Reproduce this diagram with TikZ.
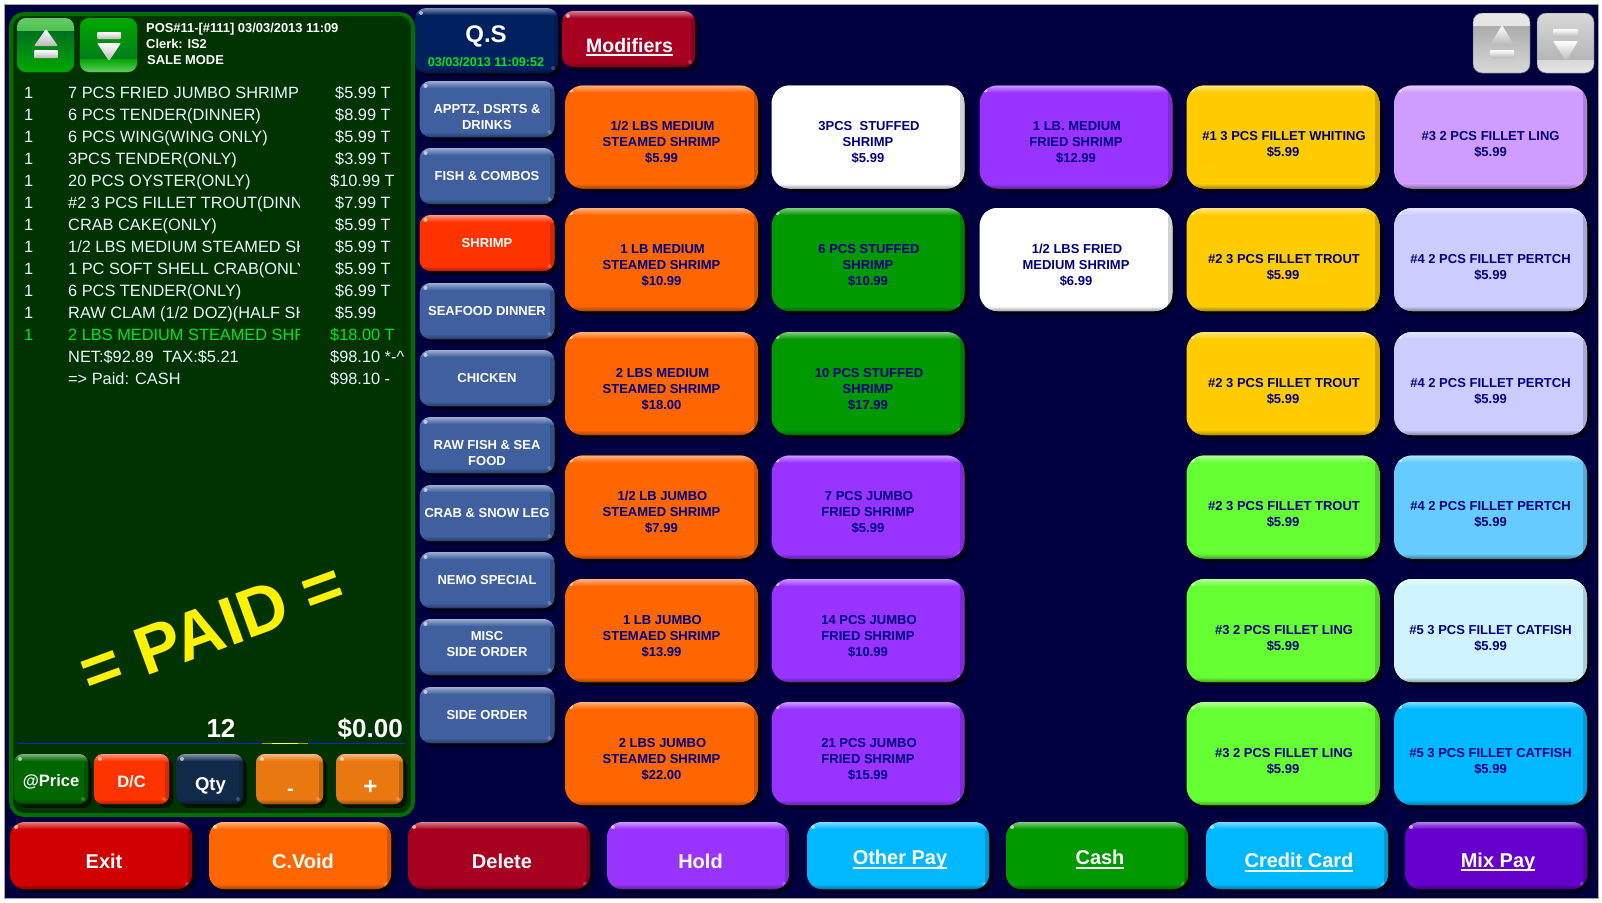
\documentclass[tikz,border=0pt]{standalone}
\usepackage{fontspec}
\setmainfont{Liberation Sans}
\usetikzlibrary{shadows}
\definecolor{screen}{HTML}{000040}
\definecolor{panelfill}{HTML}{003300}
\definecolor{panelline}{HTML}{006F00}
\definecolor{btntext}{HTML}{000080}
\definecolor{receipt}{HTML}{ECF6FF}
\definecolor{live}{HTML}{00E61E}
\definecolor{orangebtn}{HTML}{FF6600}
\definecolor{purplebtn}{HTML}{9933FF}
\definecolor{yellowbtn}{HTML}{FFCC00}
\definecolor{lilacbtn}{HTML}{CF9CFF}
\definecolor{lavenderbtn}{HTML}{CCCCFF}
\definecolor{greenbtn}{HTML}{009900}
\definecolor{limebtn}{HTML}{66FF33}
\definecolor{skybtn}{HTML}{66CCFF}
\definecolor{palebtn}{HTML}{D0F4FF}
\definecolor{cyanbtn}{HTML}{00B8FF}
\definecolor{redbtn}{HTML}{D00000}
\definecolor{winebtn}{HTML}{A80020}
\definecolor{violetbtn}{HTML}{6600CC}
\definecolor{catbtn}{HTML}{3F5F9F}
\definecolor{hotbtn}{HTML}{FF3300}
\definecolor{qsbtn}{HTML}{002060}
\definecolor{pricebtn}{HTML}{006600}
\definecolor{qtybtn}{HTML}{122A4A}
\definecolor{stepperbtn}{HTML}{E8780F}
\definecolor{glassgreen}{HTML}{00A800}
\definecolor{deepgreen}{HTML}{007020}
\definecolor{glassgray}{HTML}{D8D8D8}
\definecolor{deepgray}{HTML}{ACACAC}
\definecolor{ruleblue}{HTML}{2020C8}
\newcommand{\pad}[2][2]{\hspace*{#1pt}\rule{0pt}{#2pt}}
\newsavebox{\ulbox}
\newcommand{\btnul}[1]{\sbox{\ulbox}{#1}\usebox{\ulbox}\llap{\rule[-4pt]{\wd\ulbox}{2pt}}}
\tikzset{
  btn/.style={rounded corners=18pt,fill=#1,inner sep=0pt,align=center,
    drop shadow={shadow xshift=4pt,shadow yshift=-4pt,fill=black,opacity=.6},
    path picture={
      \shade[sharp corners,left color=#1,right color=#1!82!black] ([xshift=-4pt]path picture bounding box.north east) rectangle (path picture bounding box.south east);
      \shade[sharp corners,top color=#1!50!white,bottom color=#1] (path picture bounding box.north west) rectangle ([yshift=-7pt]path picture bounding box.north east);
      \shade[sharp corners,top color=#1,bottom color=#1!65!black] ([yshift=5pt]path picture bounding box.south west) rectangle (path picture bounding box.south east);
      \fill[white,opacity=.6] ([xshift=6pt,yshift=-5pt]path picture bounding box.north west) circle (2pt);
      \fill[white,opacity=.2] ([xshift=-5pt,yshift=5pt]path picture bounding box.south east) circle (2pt);
    }},
  gridbtn/.style={btn=#1,minimum width=193pt,minimum height=103pt,text=btntext,font=\fontsize{13}{16}\bfseries\selectfont},
  catbtn/.style={btn=#1,rounded corners=11pt,minimum width=135pt,minimum height=56pt,text=white,font=\fontsize{13}{16}\bfseries\selectfont},
  barbtn/.style={btn=#1,rounded corners=15pt,minimum width=182pt,minimum height=67pt,text=white,font=\fontsize{20}{23}\bfseries\selectfont},
  smallbtn/.style={btn=#1,rounded corners=9pt,minimum height=50pt,text=white,font=\fontsize{16.5}{20}\bfseries\selectfont},
  glassup/.style 2 args={rounded corners=9pt,fill=#1,inner sep=0pt,minimum width=57pt,path picture={
      \shade[sharp corners,top color=#1!60!white,bottom color=#1] (path picture bounding box.north west) rectangle ([yshift=-13pt]path picture bounding box.north east);
      \shade[sharp corners,top color=#2,bottom color=#1] ([yshift=-13pt]path picture bounding box.north west) rectangle (path picture bounding box.south east);
    }},
  glassdown/.style 2 args={rounded corners=9pt,fill=#1,inner sep=0pt,minimum width=57pt,path picture={
      \shade[sharp corners,top color=#1,bottom color=#2] (path picture bounding box.north west) rectangle ([yshift=13pt]path picture bounding box.south east);
      \shade[sharp corners,top color=#1,bottom color=#1!60!white] ([yshift=13pt]path picture bounding box.south west) rectangle (path picture bounding box.south east);
    }},
  glyph/.style={top color=white,bottom color=gray!55,rounded corners=1pt},
  headtext/.style={anchor=base west,inner sep=0pt,text=white,font=\fontsize{12.9}{15}\bfseries\selectfont},
  line/.style={anchor=base west,inner sep=0pt,text=receipt,font=\fontsize{16.35}{18}\selectfont},
  liveline/.style={line,text=live},
  total/.style={anchor=base,inner sep=0pt,text=white,font=\fontsize{26}{30}\bfseries\selectfont},
}
\begin{document}
\begin{tikzpicture}[x=1pt,y=-1pt]
  \useasboundingbox (0,0) rectangle (1602,902);
  \fill[white] (0,0) rectangle (1602,902);
  \fill[screen,draw=gray!70] (4,4) rectangle (1598,898);

  % sale panel
  \node[rounded corners=13pt,fill=panelfill,draw=panelline,line width=4pt,minimum width=402pt,minimum height=801pt,inner sep=0pt] (panel) at (212,414.5) {};
  \node[glassup={glassgreen}{deepgreen},minimum height=54pt] (scrollup) at (45.5,45) {};
  \node[glassdown={glassgreen}{deepgreen},minimum height=54pt] (scrolldown) at (108.5,45) {};
  \shade[glyph] (46,29) -- (58,46) -- (34,46) -- cycle;
  \shade[glyph] (34,50) rectangle (58,58);
  \shade[glyph] (97,32) rectangle (121,39);
  \shade[glyph] (97,43) -- (121,43) -- (109,61) -- cycle;
  \node[headtext] (pos) at (146,32) {POS\#11-[\#111] 03/03/2013 11:09};
  \node[headtext] (clerk) at (146,48) {Clerk: IS2};
  \node[headtext] (mode) at (147,64) {SALE MODE};

  % receipt
  \node[line] (qa) at (24,98) {1};
  \node[line] (qb) at (24,120) {1};
  \node[line] (qc) at (24,142) {1};
  \node[line] (qd) at (24,164) {1};
  \node[line] (qe) at (24,186) {1};
  \node[line] (qf) at (24,208) {1};
  \node[line] (qg) at (24,230) {1};
  \node[line] (qh) at (24,252) {1};
  \node[line] (qi) at (24,274) {1};
  \node[line] (qj) at (24,296) {1};
  \node[line] (qk) at (24,318) {1};
  \node[liveline] (ql) at (24,340) {1};
  \begin{scope}
    \clip (60,80) rectangle (299,390);
    \node[line] (ia) at (68,98) {7 PCS FRIED JUMBO SHRIMP};
    \node[line] (ib) at (68,120) {6 PCS TENDER(DINNER)};
    \node[line] (ic) at (68,142) {6 PCS WING(WING ONLY)};
    \node[line] (id) at (68,164) {3PCS TENDER(ONLY)};
    \node[line] (ie) at (68,186) {20 PCS OYSTER(ONLY)};
    \node[line] (if) at (68,208) {\#2 3 PCS FILLET TROUT(DINN};
    \node[line] (ig) at (68,230) {CRAB CAKE(ONLY)};
    \node[line] (ih) at (68,252) {1/2 LBS MEDIUM STEAMED SH};
    \node[line] (ii) at (68,274) {1 PC SOFT SHELL CRAB(ONLY};
    \node[line] (ij) at (68,296) {6 PCS TENDER(ONLY)};
    \node[line] (ik) at (68,318) {RAW CLAM (1/2 DOZ)(HALF SH};
    \node[liveline] (il) at (68,340) {2 LBS MEDIUM STEAMED SHR};
  \end{scope}
  \node[line] (net) at (68,362) {NET:\$92.89\ \ TAX:\$5.21};
  \node[line] (paid) at (68,384) {=> Paid: CASH};
  \node[line] (pa) at (335,98) {\$5.99 T};
  \node[line] (pb) at (335,120) {\$8.99 T};
  \node[line] (pc) at (335,142) {\$5.99 T};
  \node[line] (pd) at (335,164) {\$3.99 T};
  \node[line] (pe) at (330,186) {\$10.99 T};
  \node[line] (pf) at (335,208) {\$7.99 T};
  \node[line] (pg) at (335,230) {\$5.99 T};
  \node[line] (ph) at (335,252) {\$5.99 T};
  \node[line] (pi) at (335,274) {\$5.99 T};
  \node[line] (pj) at (335,296) {\$6.99 T};
  \node[line] (pk) at (335,318) {\$5.99};
  \node[liveline] (pl) at (330,340) {\$18.00 T};
  \node[line] (pm) at (330,362) {\$98.10 *-\^{}};
  \node[line] (pn) at (330,384) {\$98.10 -};

  \node[rotate=20,text=yellow,font=\fontsize{68}{72}\bfseries\selectfont] (stamp) at (212,628) {= PAID =};
  \node[total] (count) at (221,737) {12};
  \node[total,anchor=base east] (due) at (403,737) {\$0.00};
  \coordinate (ruleleft) at (18,743);
  \coordinate (ruleright) at (405,743);
  \draw[ruleblue,line width=1pt] (ruleleft) -- (ruleright);
  \draw[olive!70!yellow,line width=1pt] (262,743) -- (308,743);
  \draw[yellow!50!white,line width=1pt] (272,743) -- (298,743);

  \node[smallbtn=pricebtn,minimum width=74pt] (atprice) at (51,779) {\pad[0]{18}@Price};
  \node[smallbtn=hotbtn,minimum width=75pt] (dc) at (131.5,779) {\pad[0]{18}D/C};
  \node[smallbtn=qtybtn,minimum width=67pt,font=\fontsize{18.5}{20}\bfseries\selectfont] (qty) at (209.5,779) {\pad{26}Qty};
  \node[smallbtn=stepperbtn,minimum width=67pt,font=\fontsize{20}{20}\bfseries\selectfont] (minus) at (289.5,779) {\pad{32}-};
  \node[smallbtn=stepperbtn,minimum width=67pt,font=\fontsize{24}{24}\bfseries\selectfont] (plus) at (369.5,779) {\pad{30}+};

  % categories
  \node[catbtn=qsbtn,minimum width=143pt,minimum height=65pt] (qs) at (486.5,40.5) {};
  \node[anchor=base,inner sep=0pt,text=white,font=\fontsize{24}{26}\bfseries\selectfont] (qsname) at (486,42) {Q.S};
  \node[anchor=base,inner sep=0pt,text=live,font=\fontsize{12.6}{15}\bfseries\selectfont] (clock) at (486,66) {03/03/2013 11:09:52};
  \node[catbtn=catbtn] (apptz) at (487,109) {\pad[0]{26}APPTZ, DSRTS \&\\DRINKS};
  \node[catbtn=catbtn] (fish) at (487,176) {FISH \& COMBOS};
  \node[catbtn=hotbtn] (shrimp) at (487,243) {SHRIMP};
  \node[catbtn=catbtn] (seafood) at (487,311) {SEAFOOD DINNER};
  \node[catbtn=catbtn] (chicken) at (487,378) {CHICKEN};
  \node[catbtn=catbtn] (raw) at (487,445) {\pad[0]{26}RAW FISH \& SEA\\FOOD};
  \node[catbtn=catbtn] (crab) at (487,513) {CRAB \& SNOW LEG};
  \node[catbtn=catbtn] (nemo) at (487,580) {NEMO SPECIAL};
  \node[catbtn=catbtn] (misc) at (487,647) {MISC\\SIDE ORDER\rule[-6pt]{0pt}{6pt}};
  \node[catbtn=catbtn] (side) at (487,715) {SIDE ORDER};
  \node[catbtn=winebtn,minimum width=133pt,text=white,font=\fontsize{19.5}{23}\bfseries\selectfont] (modifiers) at (628.5,39) {\pad{30}\btnul{Modifiers}};

  \node[glassup={glassgray}{deepgray},minimum height=60pt,draw=gray!60!black] (pageup) at (1501.5,43) {};
  \node[glassdown={glassgray}{deepgray},minimum height=60pt,draw=gray!60!black] (pagedown) at (1565.5,43) {};
  \shade[glyph] (1502,25) -- (1514,45) -- (1490,45) -- cycle;
  \shade[glyph] (1490,50) rectangle (1514,58);
  \shade[glyph] (1553,29) rectangle (1578,37);
  \shade[glyph] (1553,41) -- (1578,41) -- (1566,61) -- cycle;

  % menu grid
  \node[gridbtn=orangebtn] (aa) at (661.5,137) {\pad{20}1/2 LBS MEDIUM\\STEAMED SHRIMP\\\$5.99};
  \node[gridbtn=white] (ab) at (868,137) {\pad{20}3PCS\ \ STUFFED\\SHRIMP\\\$5.99};
  \node[gridbtn=purplebtn] (ac) at (1076,137) {\pad{20}1 LB. MEDIUM\\FRIED SHRIMP\\\$12.99};
  \node[gridbtn=yellowbtn] (ad) at (1283,137) {\pad{24}\#1 3 PCS FILLET WHITING\\\$5.99};
  \node[gridbtn=lilacbtn] (ae) at (1490.5,137) {\pad[0]{24}\#3 2 PCS FILLET LING\\\$5.99};
  \node[gridbtn=orangebtn] (ba) at (661.5,259.5) {\pad{20}1 LB MEDIUM\\STEAMED SHRIMP\\\$10.99};
  \node[gridbtn=greenbtn] (bb) at (868,259.5) {\pad{20}6 PCS STUFFED\\SHRIMP\\\$10.99};
  \node[gridbtn=white] (bc) at (1076,259.5) {\pad{20}1/2 LBS FRIED\\MEDIUM SHRIMP\\\$6.99};
  \node[gridbtn=yellowbtn] (bd) at (1283,259.5) {\pad{24}\#2 3 PCS FILLET TROUT\\\$5.99};
  \node[gridbtn=lavenderbtn] (be) at (1490.5,259.5) {\pad[0]{24}\#4 2 PCS FILLET PERTCH\\\$5.99};
  \node[gridbtn=orangebtn] (ca) at (661.5,383.5) {\pad{20}2 LBS MEDIUM\\STEAMED SHRIMP\\\$18.00};
  \node[gridbtn=greenbtn] (cb) at (868,383.5) {\pad{20}10 PCS STUFFED\\SHRIMP\\\$17.99};
  \node[gridbtn=yellowbtn] (cd) at (1283,383.5) {\pad{24}\#2 3 PCS FILLET TROUT\\\$5.99};
  \node[gridbtn=lavenderbtn] (ce) at (1490.5,383.5) {\pad[0]{24}\#4 2 PCS FILLET PERTCH\\\$5.99};
  \node[gridbtn=orangebtn] (da) at (661.5,507) {\pad{20}1/2 LB JUMBO\\STEAMED SHRIMP\\\$7.99};
  \node[gridbtn=purplebtn] (db) at (868,507) {\pad{20}7 PCS JUMBO\\FRIED SHRIMP\\\$5.99};
  \node[gridbtn=limebtn] (dd) at (1283,507) {\pad{24}\#2 3 PCS FILLET TROUT\\\$5.99};
  \node[gridbtn=skybtn] (de) at (1490.5,507) {\pad[0]{24}\#4 2 PCS FILLET PERTCH\\\$5.99};
  \node[gridbtn=orangebtn] (ea) at (661.5,630.5) {\pad{20}1 LB JUMBO\\STEMAED SHRIMP\\\$13.99};
  \node[gridbtn=purplebtn] (eb) at (868,630.5) {\pad{20}14 PCS JUMBO\\FRIED SHRIMP\\\$10.99};
  \node[gridbtn=limebtn] (ed) at (1283,630.5) {\pad{24}\#3 2 PCS FILLET LING\\\$5.99};
  \node[gridbtn=palebtn] (ee) at (1490.5,630.5) {\pad[0]{24}\#5 3 PCS FILLET CATFISH\\\$5.99};
  \node[gridbtn=orangebtn] (fa) at (661.5,753.5) {\pad{20}2 LBS JUMBO\\STEAMED SHRIMP\\\$22.00};
  \node[gridbtn=purplebtn] (fb) at (868,753.5) {\pad{20}21 PCS JUMBO\\FRIED SHRIMP\\\$15.99};
  \node[gridbtn=limebtn] (fd) at (1283,753.5) {\pad{24}\#3 2 PCS FILLET LING\\\$5.99};
  \node[gridbtn=cyanbtn] (fe) at (1490.5,753.5) {\pad[0]{24}\#5 3 PCS FILLET CATFISH\\\$5.99};

  % bottom bar
  \node[barbtn=redbtn] (exit) at (101,855.5) {\pad[6]{27}Exit};
  \node[barbtn=orangebtn] (cvoid) at (300,855.5) {\pad[6]{27}C.Void};
  \node[barbtn=winebtn] (delete) at (499,855.5) {\pad[6]{27}Delete};
  \node[barbtn=purplebtn] (hold) at (698,855.5) {\pad[5]{27}Hold};
  \node[barbtn=cyanbtn] (otherpay) at (898,855.5) {\pad[4]{23}\btnul{Other Pay}};
  \node[barbtn=greenbtn] (cash) at (1097,855.5) {\pad[6]{22}\btnul{Cash}};
  \node[barbtn=cyanbtn] (credit) at (1297,855.5) {\pad[4]{28}\btnul{Credit Card}};
  \node[barbtn=violetbtn] (mixpay) at (1496,855.5) {\pad[4]{28}\btnul{Mix Pay}};
\end{tikzpicture}
\end{document}
